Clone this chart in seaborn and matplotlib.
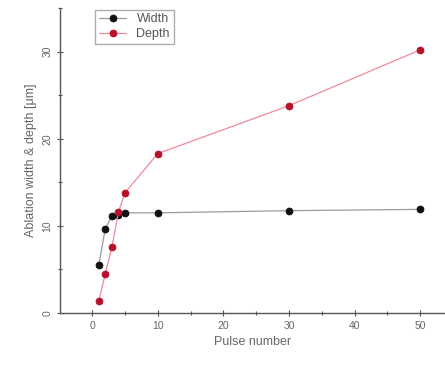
import matplotlib.pyplot as plt
import seaborn as sns
import pandas as pd
from matplotlib.ticker import MultipleLocator

pulses = [1, 2, 3, 4, 5, 10, 30, 50]
width_um = [5.5, 9.7, 11.1, 11.3, 11.5, 11.5, 11.75, 11.9]
depth_um = [1.4, 4.5, 7.55, 11.6, 13.8, 18.3, 23.8, 30.2]

df = pd.concat([
    pd.DataFrame({"pulse": pulses, "value": width_um, "series": "Width"}),
    pd.DataFrame({"pulse": pulses, "value": depth_um, "series": "Depth"}),
])

sns.set_style("ticks")
plt.rcParams["font.family"] = ["Liberation Sans", "DejaVu Sans"]

fig = plt.figure(figsize=(4.45, 3.67), dpi=100)
ax = fig.add_axes([0.135, 0.147, 0.865, 0.831])

line_colors = {"Width": "#9a9a9a", "Depth": "#f08a9a"}
marker_colors = {"Width": "#111111", "Depth": "#b8102a"}

for name in ["Width", "Depth"]:
    sub = df[df["series"] == name]
    sns.lineplot(data=sub, x="pulse", y="value", ax=ax, color=line_colors[name],
                 linewidth=0.9, marker="o", markersize=4.8,
                 markerfacecolor=marker_colors[name], markeredgecolor=marker_colors[name],
                 label=name)

ax.set_xlim(-4.9, 53.8)
ax.set_ylim(0, 35)
ax.xaxis.set_major_locator(MultipleLocator(10))
ax.xaxis.set_minor_locator(MultipleLocator(5))
ax.yaxis.set_major_locator(MultipleLocator(10))
ax.yaxis.set_minor_locator(MultipleLocator(5))
ax.tick_params(axis="both", which="major", length=4, width=0.8, colors="#555555",
               labelsize=7.5, labelcolor="#666666", direction="inout")
ax.tick_params(axis="both", which="minor", length=3, width=0.8, colors="#555555",
               direction="inout")
for lab in ax.get_yticklabels():
    lab.set_rotation(90)
    lab.set_va("center")

for s in ["top", "right"]:
    ax.spines[s].set_visible(False)
for s in ["left", "bottom"]:
    ax.spines[s].set_color("#555555")
    ax.spines[s].set_linewidth(1.0)

ax.set_xlabel("Pulse number", fontsize=9, color="#666666")
ax.set_ylabel("Ablation width & depth [\u03bcm]", fontsize=9, color="#666666")

leg = ax.legend(loc="upper left", bbox_to_anchor=(0.075, 1.015), fontsize=9,
                frameon=True, fancybox=False, edgecolor="#999999",
                handlelength=2.2, borderpad=0.3, labelspacing=0.2)
for t in leg.get_texts():
    t.set_color("#555555")

fig.savefig("out.png", dpi=100)
